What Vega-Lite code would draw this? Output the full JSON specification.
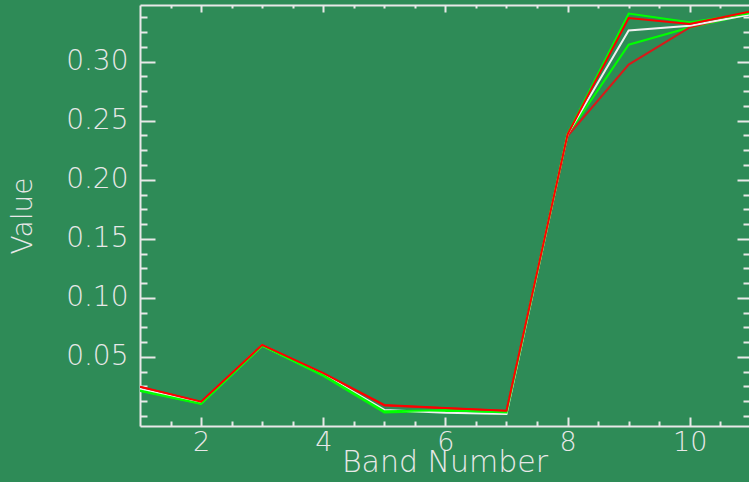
{
  "$schema": "https://vega.github.io/schema/vega-lite/v6.json",
  "width": 609,
  "height": 421,
  "autosize": {"type": "none"},
  "padding": {"left": 140, "top": 5, "right": 0, "bottom": 56},
  "background": "#2E8B57",
  "config": {
    "view": {"stroke": null},
    "axis": {
      "domainColor": "#E8E8E8", "tickColor": "#E8E8E8", "labelColor": "#E8E8E8", "titleColor": "#E8E8E8",
      "labelFont": "DejaVu Sans", "titleFont": "DejaVu Sans",
      "labelFontWeight": 200, "titleFontWeight": 200,
      "grid": false, "domainWidth": 2, "tickWidth": 2
    }
  },
  "data": {"values": [
    {"band": 1, "s": "s1", "v": 0.0212}, {"band": 2, "s": "s1", "v": 0.0102}, {"band": 3, "s": "s1", "v": 0.0593}, {"band": 4, "s": "s1", "v": 0.0340}, {"band": 5, "s": "s1", "v": 0.0030}, {"band": 6, "s": "s1", "v": 0.0045}, {"band": 7, "s": "s1", "v": 0.0028}, {"band": 8, "s": "s1", "v": 0.2380}, {"band": 9, "s": "s1", "v": 0.3144}, {"band": 10, "s": "s1", "v": 0.3290}, {"band": 11, "s": "s1", "v": 0.3405},
    {"band": 1, "s": "s2", "v": 0.0245}, {"band": 2, "s": "s2", "v": 0.0118}, {"band": 3, "s": "s2", "v": 0.0600}, {"band": 4, "s": "s2", "v": 0.0360}, {"band": 5, "s": "s2", "v": 0.0088}, {"band": 6, "s": "s2", "v": 0.0066}, {"band": 7, "s": "s2", "v": 0.0043}, {"band": 8, "s": "s2", "v": 0.2370}, {"band": 9, "s": "s2", "v": 0.2975}, {"band": 10, "s": "s2", "v": 0.3290}, {"band": 11, "s": "s2", "v": 0.3420},
    {"band": 1, "s": "s3", "v": 0.0229}, {"band": 2, "s": "s3", "v": 0.0110}, {"band": 3, "s": "s3", "v": 0.0598}, {"band": 4, "s": "s3", "v": 0.0352}, {"band": 5, "s": "s3", "v": 0.0051}, {"band": 6, "s": "s3", "v": 0.0028}, {"band": 7, "s": "s3", "v": 0.0017}, {"band": 8, "s": "s3", "v": 0.2385}, {"band": 9, "s": "s3", "v": 0.3265}, {"band": 10, "s": "s3", "v": 0.3305}, {"band": 11, "s": "s3", "v": 0.3400},
    {"band": 1, "s": "s4", "v": 0.0215}, {"band": 2, "s": "s4", "v": 0.0104}, {"band": 3, "s": "s4", "v": 0.0595}, {"band": 4, "s": "s4", "v": 0.0345}, {"band": 5, "s": "s4", "v": 0.0040}, {"band": 6, "s": "s4", "v": 0.0048}, {"band": 7, "s": "s4", "v": 0.0030}, {"band": 8, "s": "s4", "v": 0.2390}, {"band": 9, "s": "s4", "v": 0.3407}, {"band": 10, "s": "s4", "v": 0.3333}, {"band": 11, "s": "s4", "v": 0.3410},
    {"band": 1, "s": "s5", "v": 0.0248}, {"band": 2, "s": "s5", "v": 0.0121}, {"band": 3, "s": "s5", "v": 0.0602}, {"band": 4, "s": "s5", "v": 0.0362}, {"band": 5, "s": "s5", "v": 0.0093}, {"band": 6, "s": "s5", "v": 0.0068}, {"band": 7, "s": "s5", "v": 0.0045}, {"band": 8, "s": "s5", "v": 0.2385}, {"band": 9, "s": "s5", "v": 0.3370}, {"band": 10, "s": "s5", "v": 0.3320}, {"band": 11, "s": "s5", "v": 0.3426}
  ]},
  "resolve": {"axis": {"x": "independent", "y": "independent"}},
  "layer": [
    {
      "mark": {"type": "line", "opacity": 0},
      "encoding": {
        "x": {"field": "band", "type": "quantitative", "scale": {"domain": [1, 10.97], "nice": false, "zero": false},
              "axis": {"orient": "bottom", "values": [2, 4, 6, 8, 10], "tickSize": -9, "labelPadding": 12, "labelFontSize": 27, "title": "Band Number", "titleFontSize": 30, "titlePadding": -8}},
        "y": {"field": "v", "type": "quantitative", "scale": {"domain": [-0.0085, 0.348], "nice": false, "zero": false},
              "axis": {"orient": "left", "values": [0.05, 0.10, 0.15, 0.20, 0.25, 0.30], "format": ".2f", "tickSize": -15, "labelPadding": 27, "labelFontSize": 28, "title": "Value", "titleFontSize": 28, "titlePadding": 28}}
      }
    },
    {
      "mark": {"type": "line", "opacity": 0},
      "encoding": {
        "x": {"field": "band", "type": "quantitative", "scale": {"domain": [1, 10.97], "nice": false, "zero": false},
              "axis": {"orient": "bottom", "values": [1.5, 2.5, 3, 3.5, 4.5, 5, 5.5, 6.5, 7, 7.5, 8.5, 9, 9.5, 10.5], "tickSize": -5, "labels": false, "domain": false, "title": null}},
        "y": {"field": "v", "type": "quantitative", "scale": {"domain": [-0.0085, 0.348], "nice": false, "zero": false},
              "axis": {"orient": "left", "values": [0, 0.0125, 0.025, 0.0375, 0.0625, 0.075, 0.0875, 0.1125, 0.125, 0.1375, 0.1625, 0.175, 0.1875, 0.2125, 0.225, 0.2375, 0.2625, 0.275, 0.2875, 0.3125, 0.325, 0.3375], "tickSize": -7, "labels": false, "domain": false, "title": null}}
      }
    },
    {
      "mark": {"type": "line", "opacity": 0},
      "encoding": {
        "x": {"field": "band", "type": "quantitative", "scale": {"domain": [1, 10.97], "nice": false, "zero": false},
              "axis": {"orient": "top", "values": [2, 4, 6, 8, 10], "tickSize": -7, "labels": false, "domain": true, "title": null}},
        "y": {"field": "v", "type": "quantitative", "scale": {"domain": [-0.0085, 0.348], "nice": false, "zero": false},
              "axis": {"orient": "right", "values": [0.05, 0.10, 0.15, 0.20, 0.25, 0.30], "tickSize": -12, "labels": false, "domain": false, "title": null}}
      }
    },
    {
      "mark": {"type": "line", "opacity": 0},
      "encoding": {
        "x": {"field": "band", "type": "quantitative", "scale": {"domain": [1, 10.97], "nice": false, "zero": false},
              "axis": {"orient": "top", "values": [1.5, 2.5, 3, 3.5, 4.5, 5, 5.5, 6.5, 7, 7.5, 8.5, 9, 9.5, 10.5], "tickSize": -3, "labels": false, "domain": false, "title": null}},
        "y": {"field": "v", "type": "quantitative", "scale": {"domain": [-0.0085, 0.348], "nice": false, "zero": false},
              "axis": {"orient": "right", "values": [0, 0.0125, 0.025, 0.0375, 0.0625, 0.075, 0.0875, 0.1125, 0.125, 0.1375, 0.1625, 0.175, 0.1875, 0.2125, 0.225, 0.2375, 0.2625, 0.275, 0.2875, 0.3125, 0.325, 0.3375], "tickSize": -6, "labels": false, "domain": false, "title": null}}
      }
    },
    {
      "mark": {"type": "line", "strokeWidth": 2, "clip": true},
      "encoding": {
        "x": {"field": "band", "type": "quantitative", "scale": {"domain": [1, 10.97], "nice": false, "zero": false}, "axis": null},
        "y": {"field": "v", "type": "quantitative", "scale": {"domain": [-0.0085, 0.348], "nice": false, "zero": false}, "axis": null},
        "color": {"field": "s", "type": "nominal", "scale": {"domain": ["s1", "s2", "s3", "s4", "s5"], "range": ["#00FF00", "#D81A1A", "#F0F0F0", "#00FF00", "#FF0000"]}, "legend": null}
      }
    }
  ]
}
